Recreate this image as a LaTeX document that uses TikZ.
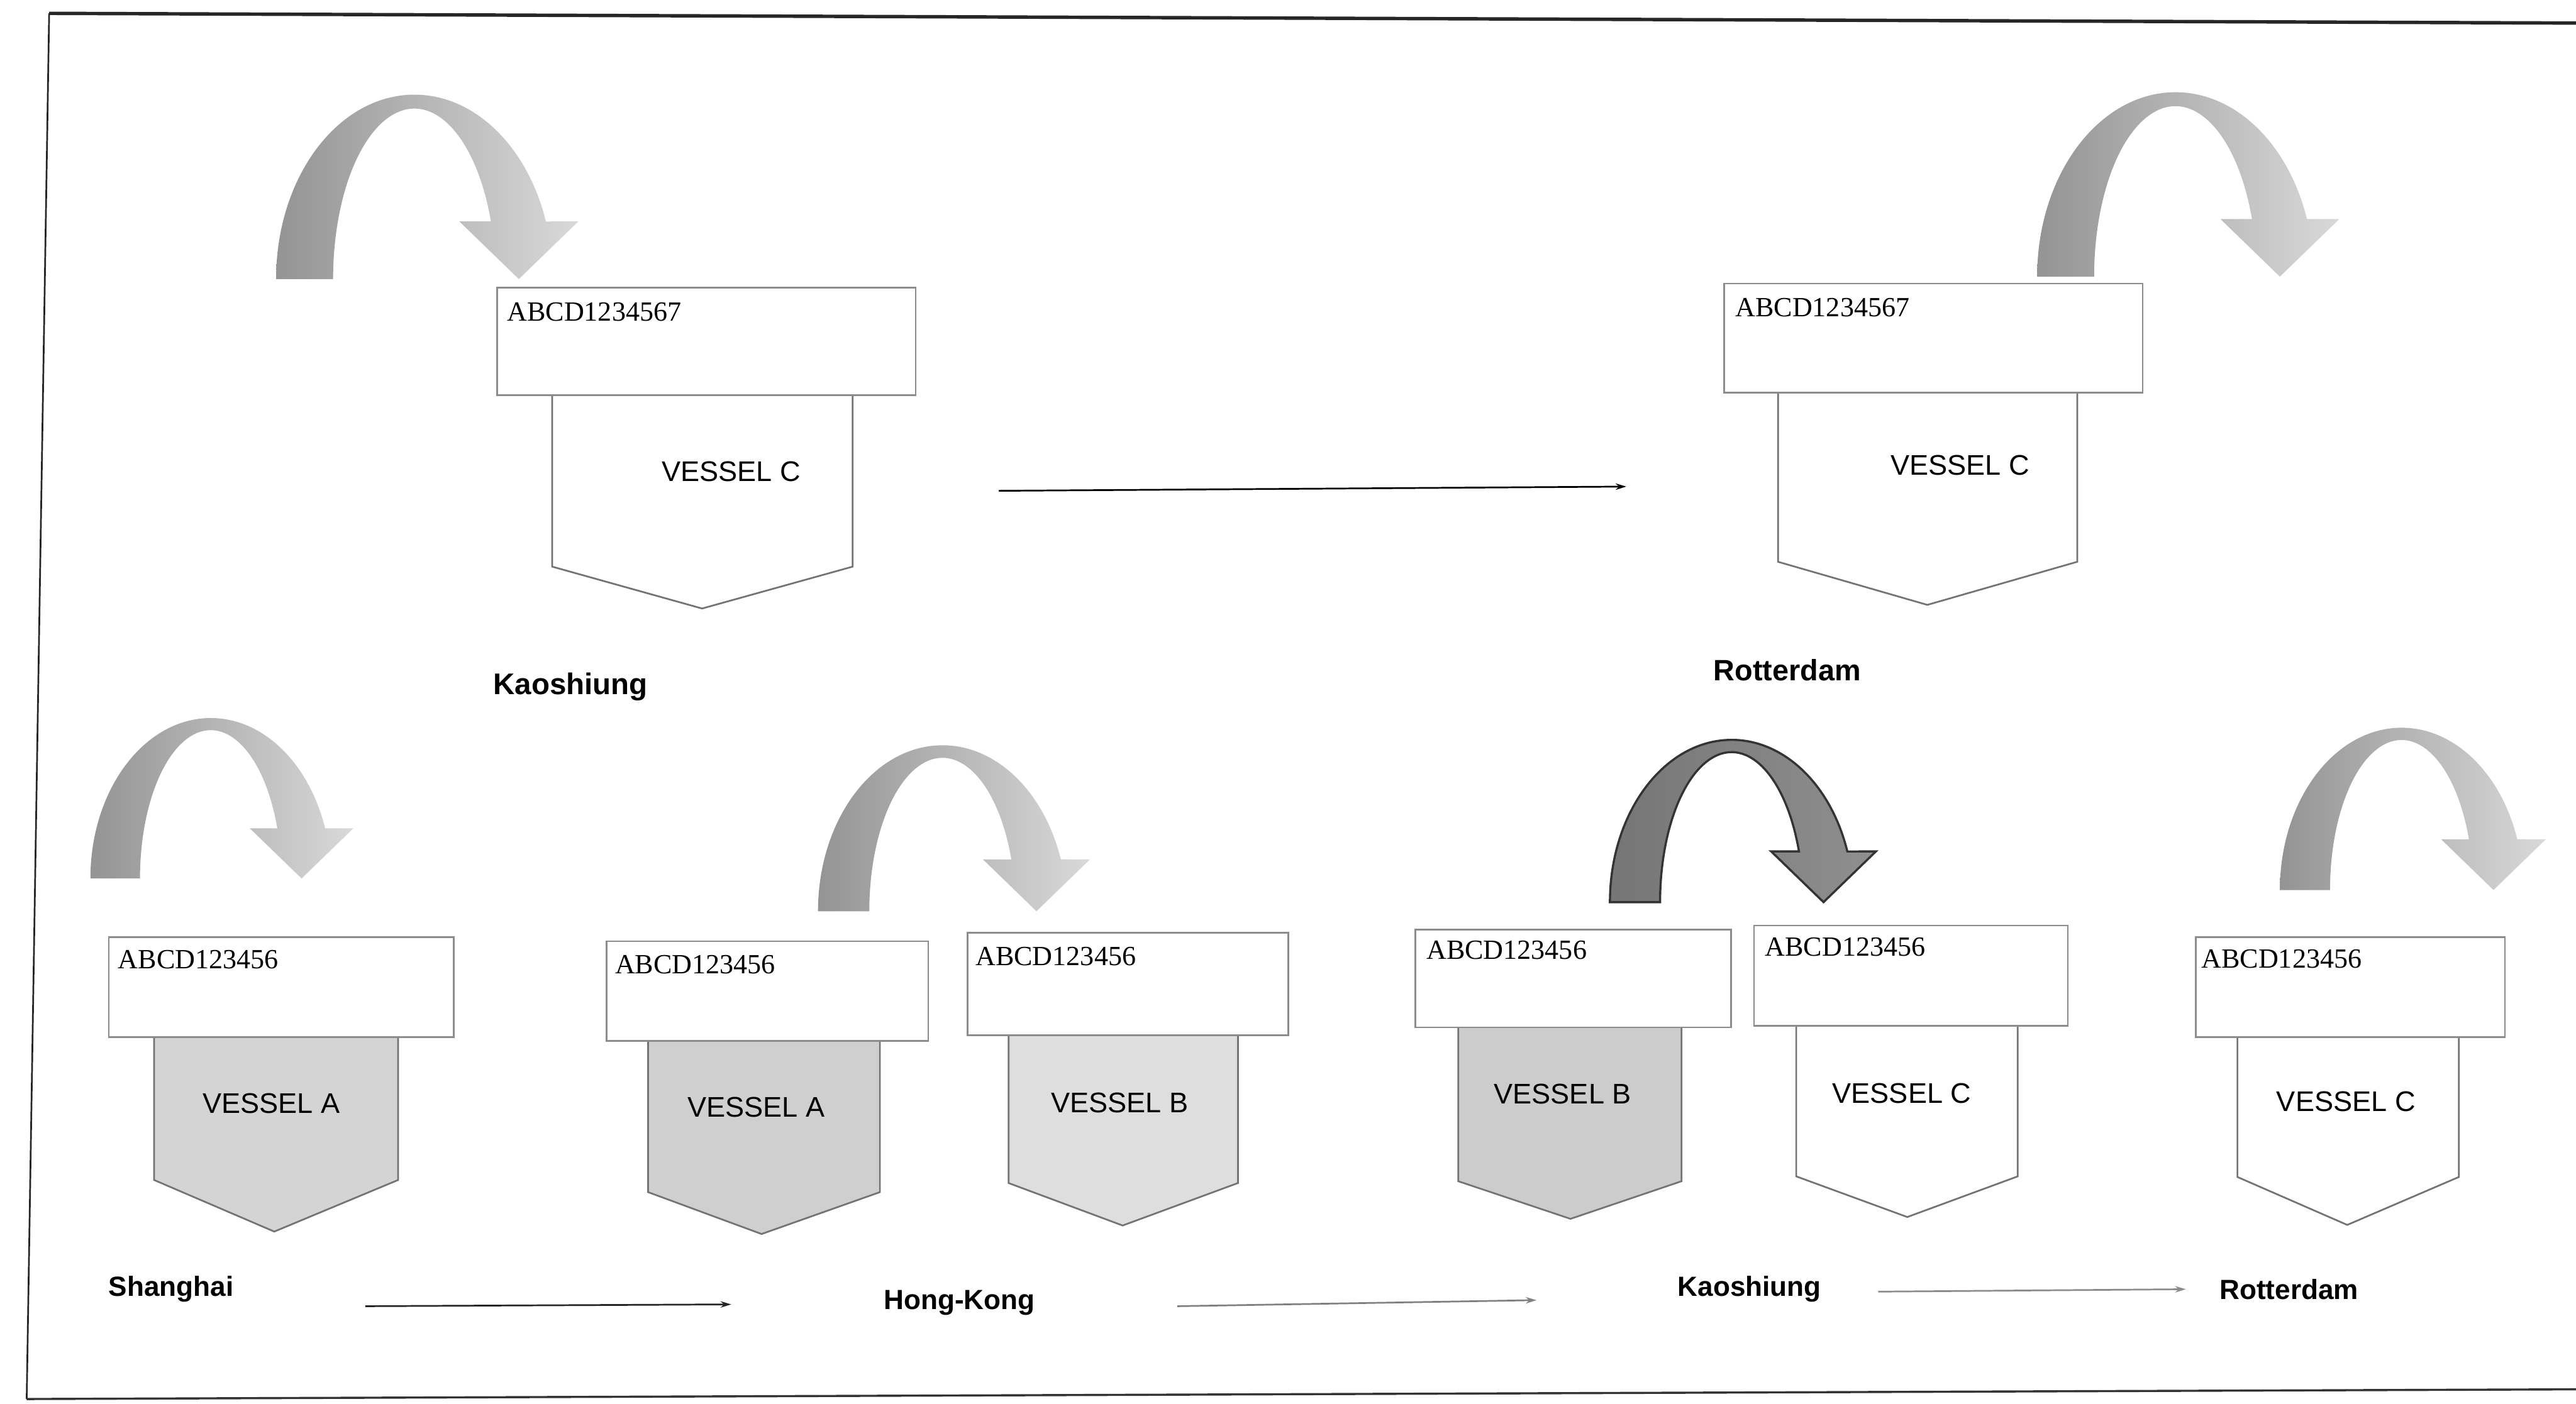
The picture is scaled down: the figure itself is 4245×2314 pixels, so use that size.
\documentclass[tikz,border=0pt]{standalone}
\usepackage{fontspec}
\setmainfont{Liberation Serif}
\newfontfamily\arialfont{Liberation Sans}
\usetikzlibrary{arrows.meta}
\tikzset{
  lightcurve/.pic={
    \path[yscale=-1, left color=black!42, right color=black!15, draw=none]
      (0,0) arc[start angle=180, end angle=18.2, x radius=228, y radius=304]
      -- (498,95) -- (400,0) -- (302,95) -- (354,95)
      arc[start angle=19.76, end angle=180, x radius=134, y radius=281] -- cycle;
  },
  darkcurve/.pic={
    \path[yscale=-1, left color=black!54, right color=black!44, draw=black!80, line width=1pt]
      (0,0) arc[start angle=180, end angle=18.2, x radius=228, y radius=304]
      -- (498,95) -- (400,0) -- (302,95) -- (354,95)
      arc[start angle=19.76, end angle=180, x radius=134, y radius=281] -- cycle;
  }
}
\begin{document}
\begin{tikzpicture}[x=0.01cm, y=-0.01cm,
  idbox/.style={draw=black!45, line width=0.8pt, fill=white, anchor=north west, inner sep=0pt},
  vesselshape/.style={draw=black!55, line width=0.8pt},
  idtext/.style={font=\fontsize{13}{15}\selectfont, inner sep=0pt, anchor=base west},
  vesseltext/.style={font=\arialfont\fontsize{13.3}{16}\selectfont, inner sep=0pt},
  porttext/.style={font=\arialfont\bfseries\fontsize{13}{16}\selectfont, inner sep=0pt},
  route/.style={-{Stealth[length=5pt,width=3pt]}, line width=0.8pt}
]
\useasboundingbox (0,0) rectangle (4245,2314);
% scanned frame
\draw[line width=1.6pt, black!85] (81,22) -- (4245,38);
\draw[line width=0.8pt, black!85] (81,22) -- (44,2306);
\draw[line width=1pt, black!80] (44,2306) -- (4245,2290);

% curved arrows
\pic at (455,460) {lightcurve};
\pic at (3357,456) {lightcurve};
\pic[scale=0.87] at (149,1448) {lightcurve};
\pic[scale=0.9] at (1348,1502) {lightcurve};
\pic[scale=0.88] at (2653,1487) {darkcurve};
\pic[scale=0.88] at (3757,1467) {lightcurve};

% ---- top left ----
\draw[vesselshape, fill=white] (910,650) -- (910,934) -- (1157,1003) -- (1405,934) -- (1405,650) -- cycle;
\node[idbox, minimum width=6.89cm, minimum height=1.77cm] (boxTL) at (818,473) {};
\node[idtext] (idTL) at (835,529) {ABCD1234567};
\node[vesseltext] (vTL) at (1205,777) {VESSEL C};
\node[porttext, font=\arialfont\bfseries\fontsize{14}{16}\selectfont] (pKaoTop) at (940,1132) {Kaoshiung};

% ---- top right ----
\draw[vesselshape, fill=white] (2930,646) -- (2930,926) -- (3176,997) -- (3423,926) -- (3423,646) -- cycle;
\node[idbox, minimum width=6.89cm, minimum height=1.80cm] (boxTR) at (2840,466) {};
\node[idtext] (idTR) at (2859,522) {ABCD1234567};
\node[vesseltext] (vTR) at (3230,767) {VESSEL C};
\node[porttext, font=\arialfont\bfseries\fontsize{13.8}{16}\selectfont] (pRotTop) at (2945,1104) {Rotterdam};

\coordinate (topS) at (1646,809);
\coordinate (topE) at (2680,802);
\draw[route, black] (topS) -- (topE);

% ---- bottom: Shanghai ----
\draw[vesselshape, fill=black!17] (254,1708) -- (254,1945) -- (452,2030) -- (656,1945) -- (656,1708) -- cycle;
\node[idbox, minimum width=5.68cm, minimum height=1.65cm] (boxSA) at (178,1543) {};
\node[idtext] (idSA) at (194,1596) {ABCD123456};
\node[vesseltext] (vSA) at (447,1819) {VESSEL A};

% ---- bottom: Hong-Kong ----
\draw[vesselshape, fill=black!19] (1068,1714) -- (1068,1965) -- (1255,2034) -- (1450,1965) -- (1450,1714) -- cycle;
\node[idbox, minimum width=5.30cm, minimum height=1.64cm] (boxHA) at (998,1550) {};
\node[idtext] (idHA) at (1013,1605) {ABCD123456};
\node[vesseltext] (vHA) at (1246,1825) {VESSEL A};

\draw[vesselshape, fill=black!13] (1662,1705) -- (1662,1950) -- (1850,2020) -- (2040,1950) -- (2040,1705) -- cycle;
\node[idbox, minimum width=5.28cm, minimum height=1.69cm] (boxHB) at (1593,1536) {};
\node[idtext] (idHB) at (1607,1591) {ABCD123456};
\node[vesseltext] (vHB) at (1845,1818) {VESSEL B};

% ---- bottom: Kaoshiung ----
\draw[vesselshape, fill=black!20] (2403,1692) -- (2403,1947) -- (2588,2009) -- (2771,1947) -- (2771,1692) -- cycle;
\node[idbox, minimum width=5.20cm, minimum height=1.61cm] (boxKB) at (2331,1531) {};
\node[idtext] (idKB) at (2350,1581) {ABCD123456};
\node[vesseltext] (vKB) at (2575,1803) {VESSEL B};

\draw[vesselshape, fill=white] (2960,1689) -- (2960,1939) -- (3143,2006) -- (3325,1939) -- (3325,1689) -- cycle;
\node[idbox, minimum width=5.17cm, minimum height=1.65cm] (boxKC) at (2889,1524) {};
\node[idtext] (idKC) at (2908,1576) {ABCD123456};
\node[vesseltext] (vKC) at (3134,1802) {VESSEL C};

% ---- bottom: Rotterdam ----
\draw[vesselshape, fill=white] (3687,1708) -- (3687,1940) -- (3868,2019) -- (4052,1940) -- (4052,1708) -- cycle;
\node[idbox, minimum width=5.09cm, minimum height=1.65cm] (boxRC) at (3617,1543) {};
\node[idtext] (idRC) at (3627,1595) {ABCD123456};
\node[vesseltext] (vRC) at (3866,1816) {VESSEL C};

% ---- bottom labels and routes ----
\node[porttext] (pSha) at (282,2125) {Shanghai};
\node[porttext] (pHK) at (1581,2147) {Hong-Kong};
\node[porttext] (pKao) at (2883,2125) {Kaoshiung};
\node[porttext] (pRot) at (3772,2125) {Rotterdam};

\coordinate (r1s) at (602,2153);
\coordinate (r1e) at (1205,2150);
\coordinate (r2s) at (1940,2153);
\coordinate (r2e) at (2532,2143);
\coordinate (r3s) at (3095,2129);
\coordinate (r3e) at (3602,2125);
\draw[route, black!85] (r1s) -- (r1e);
\draw[route, black!50] (r2s) -- (r2e);
\draw[route, black!45] (r3s) -- (r3e);
\end{tikzpicture}
\end{document}
